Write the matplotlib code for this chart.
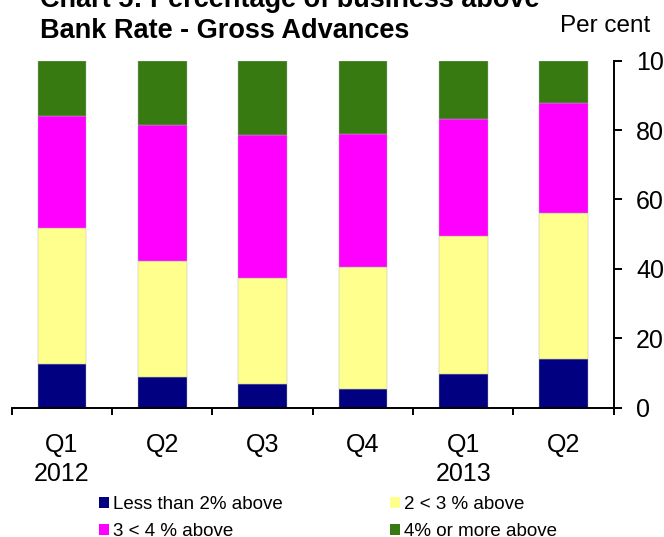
import matplotlib
matplotlib.use("Agg")
import matplotlib.pyplot as plt
from matplotlib.patches import Patch
import numpy as np

plt.rcParams['font.family'] = ['Liberation Sans', 'DejaVu Sans']

quarters = ["Q1\n2012", "Q2", "Q3", "Q4", "Q1\n2013", "Q2"]
less_than_2 = [12.6, 8.9, 6.7, 5.5, 9.7, 13.9]
two_to_3 = [39.3, 33.3, 30.6, 35.0, 39.8, 42.1]
three_to_4 = [32.1, 39.2, 41.4, 38.4, 33.6, 31.7]
four_plus = [16.0, 18.6, 21.3, 21.1, 16.9, 12.3]
series_names = ["Less than 2% above", "2 < 3 % above", "3 < 4 % above", "4% or more above"]
colors = ["#000080", "#FFFF8E", "#FF00FF", "#387A12"]
y_ticks = [0, 20, 40, 60, 80, 100]

W, H = 664, 537
fig = plt.figure(figsize=(W / 100, H / 100), dpi=100)
ax = fig.add_axes([11.7 / W, 1 - 407.7 / H, (613.7 - 11.7) / W, (407.7 - 60.7) / H])

x = np.arange(len(quarters))
series = [less_than_2, two_to_3, three_to_4, four_plus]
bottom = np.zeros(len(quarters))
for vals, col in zip(series, colors):
    ax.bar(x, vals, width=0.485, bottom=bottom, color=col, edgecolor='#b0b0b0', linewidth=0.3)
    bottom = bottom + np.array(vals)

ax.set_xlim(-0.5, len(quarters) - 0.5)
ax.set_ylim(0, 100)

ax.spines['left'].set_visible(False)
ax.spines['top'].set_visible(False)
ax.spines['right'].set_linewidth(1.4)
ax.spines['bottom'].set_linewidth(1.4)

ax.yaxis.tick_right()
ax.set_yticks(y_ticks)
ax.set_yticklabels([str(v) for v in y_ticks])
ax.tick_params(axis='y', direction='out', length=6, width=1.4, pad=10, labelsize=18)

ax.set_xticks(np.arange(-0.5, len(quarters), 1.0))
ax.set_xticklabels([])
ax.tick_params(axis='x', which='major', direction='out', length=5, width=1.4)
ax.set_xticks(x, minor=True)
ax.set_xticklabels(quarters, minor=True, fontsize=18, linespacing=1.3)
ax.tick_params(axis='x', which='minor', length=0, pad=18)

fig.text(40 / W, 1 - 6.7 / H, "Chart 5: Percentage of business above", fontsize=19.5,
         fontweight='bold', ha='left', va='baseline')
fig.text(40 / W, 1 - 37.5 / H, "Bank Rate - Gross Advances", fontsize=19.5,
         fontweight='bold', ha='left', va='baseline')
fig.text(560 / W, 1 - 32.3 / H, "Per cent", fontsize=17.5, ha='left', va='baseline')

handles = [Patch(facecolor=colors[i], edgecolor='none') for i in [0, 2, 1, 3]]
labels = [series_names[i] for i in [0, 2, 1, 3]]
fig.legend(handles, labels, loc='upper left', bbox_to_anchor=(99 / W, 1 - 496 / H),
           ncol=2, frameon=False, fontsize=13.5, handlelength=0.55, handleheight=0.55,
           handletextpad=0.2, columnspacing=5.7, labelspacing=0.55, borderpad=0, borderaxespad=0)

fig.savefig("out.png", dpi=100)
